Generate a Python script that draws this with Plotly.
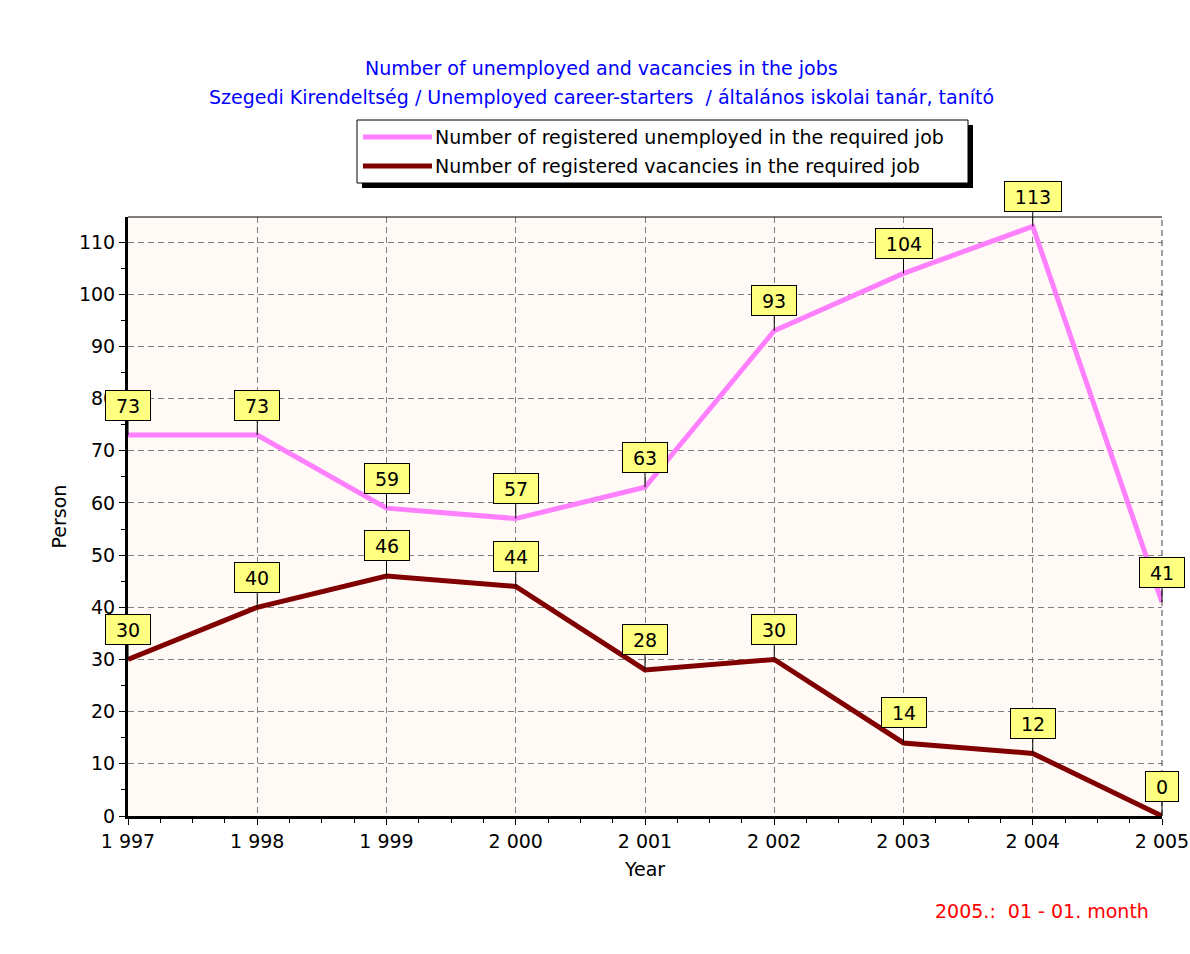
import plotly.graph_objects as go

# --- data ---------------------------------------------------------------
years = [1997, 1998, 1999, 2000, 2001, 2002, 2003, 2004, 2005]
year_labels = ["1 997", "1 998", "1 999", "2 000", "2 001", "2 002", "2 003", "2 004", "2 005"]
unemployed = [73, 73, 59, 57, 63, 93, 104, 113, 41]
vacancies = [30, 40, 46, 44, 28, 30, 14, 12, 0]
y_ticks = [0, 10, 20, 30, 40, 50, 60, 70, 80, 90, 100, 110]

series_names = [
    "Number of registered unemployed in the required job",
    "Number of registered vacancies in the required job",
]
series_colors = ["#FF80FF", "#800000"]
series_widths = [5, 5]

title_lines = [
    "Number of unemployed and vacancies in the jobs",
    "Szegedi Kirendeltség / Unemployed career-starters  / általános iskolai tanár, tanító",
]
footnote = "2005.:  01 - 01. month"

# --- geometry (pixels) ----------------------------------------------------
W, H = 1190, 954
L, R, T, B = 128, 1162, 217, 816
FONT = "DejaVu Sans, Verdana, sans-serif"
FS = 19


def px_x(px):
    return (px - L) / (R - L)


def px_y(py):
    return (B - py) / (B - T)


fig = go.Figure()

for name, vals, col, w in zip(series_names, [unemployed, vacancies], series_colors, series_widths):
    fig.add_trace(go.Scatter(
        x=years, y=vals, mode="lines", name=name,
        line=dict(color=col, width=w), showlegend=False,
    ))

annotations = []

# value labels in yellow boxes
for vals in [unemployed, vacancies]:
    for x, v in zip(years, vals):
        txt = str(v)
        annotations.append(dict(
            x=x, y=v, xref="x", yref="y", text=txt,
            showarrow=True, arrowhead=0, arrowwidth=1, arrowcolor="black",
            ax=0, ay=-30, bgcolor="#FFFF80", bordercolor="black",
            borderwidth=1, borderpad=3, width=12 * len(txt) + 14, height=23,
            font=dict(family=FONT, size=FS, color="black"),
        ))

# titles
for line, py in zip(title_lines, [68, 97]):
    annotations.append(dict(
        x=px_x(601), y=px_y(py), xref="paper", yref="paper", text=line,
        showarrow=False, xanchor="center", yanchor="middle",
        font=dict(family=FONT, size=FS, color="#0000FF"),
    ))

# legend text
leg_left, leg_top, leg_right, leg_bottom = 357, 120, 968, 183
for name, py in zip(series_names, [137, 166]):
    annotations.append(dict(
        x=px_x(433), y=px_y(py), xref="paper", yref="paper", text=name,
        showarrow=False, xanchor="left", yanchor="middle",
        font=dict(family=FONT, size=FS, color="black"),
    ))

# footnote
annotations.append(dict(
    x=px_x(1151), y=px_y(911), xref="paper", yref="paper", text=footnote,
    showarrow=False, xanchor="right", yanchor="middle",
    font=dict(family=FONT, size=FS, color="#FF0000"),
))

shapes = [
    # plot frame top edge and dashed right edge
    dict(type="line", xref="paper", yref="paper", x0=0, x1=1, y0=1, y1=1,
         line=dict(color="black", width=1)),
    dict(type="line", xref="paper", yref="paper", x0=1, x1=1, y0=0, y1=1,
         line=dict(color="#404040", width=1, dash="6px,4px")),
    # legend shadow and box
    dict(type="rect", xref="paper", yref="paper",
         x0=px_x(leg_left + 5), x1=px_x(leg_right + 5),
         y0=px_y(leg_bottom + 5), y1=px_y(leg_top + 5),
         fillcolor="black", line=dict(width=0)),
    dict(type="rect", xref="paper", yref="paper",
         x0=px_x(leg_left), x1=px_x(leg_right),
         y0=px_y(leg_bottom), y1=px_y(leg_top),
         fillcolor="white", line=dict(color="black", width=1)),
]
for col, py in zip(series_colors, [137, 166]):
    shapes.append(dict(type="line", xref="paper", yref="paper",
                       x0=px_x(363), x1=px_x(432), y0=px_y(py), y1=px_y(py),
                       line=dict(color=col, width=5)))

axis_common = dict(
    automargin=False,
    showline=True, linecolor="black", linewidth=3,
    ticks="outside", ticklen=6, tickwidth=1, tickcolor="black",
    showgrid=True, gridcolor="#808080", gridwidth=1, griddash="6px,4px",
    zeroline=False,
    tickfont=dict(family=FONT, size=FS, color="black"),
    title_font=dict(family=FONT, size=FS, color="black"),
)

fig.update_layout(
    width=W, height=H,
    margin=dict(l=L, r=W - R, t=T, b=H - B, pad=0, autoexpand=False),
    paper_bgcolor="white", plot_bgcolor="#FFFAF5",
    showlegend=False,
    xaxis=dict(
        range=[1997, 2005], tickvals=years, ticktext=year_labels,
        title=dict(text="Year", standoff=12),
        minor=dict(tick0=1997, dtick=0.25, ticks="outside", ticklen=4,
                   tickcolor="black", showgrid=False),
        **axis_common,
    ),
    yaxis=dict(
        range=[0, 114.8], tickvals=y_ticks,
        title=dict(text="Person", standoff=8),
        minor=dict(tick0=0, dtick=5, ticks="outside", ticklen=4,
                   tickcolor="black", showgrid=False),
        **axis_common,
    ),
    annotations=annotations,
    shapes=shapes,
)

fig.write_html("out.html")
